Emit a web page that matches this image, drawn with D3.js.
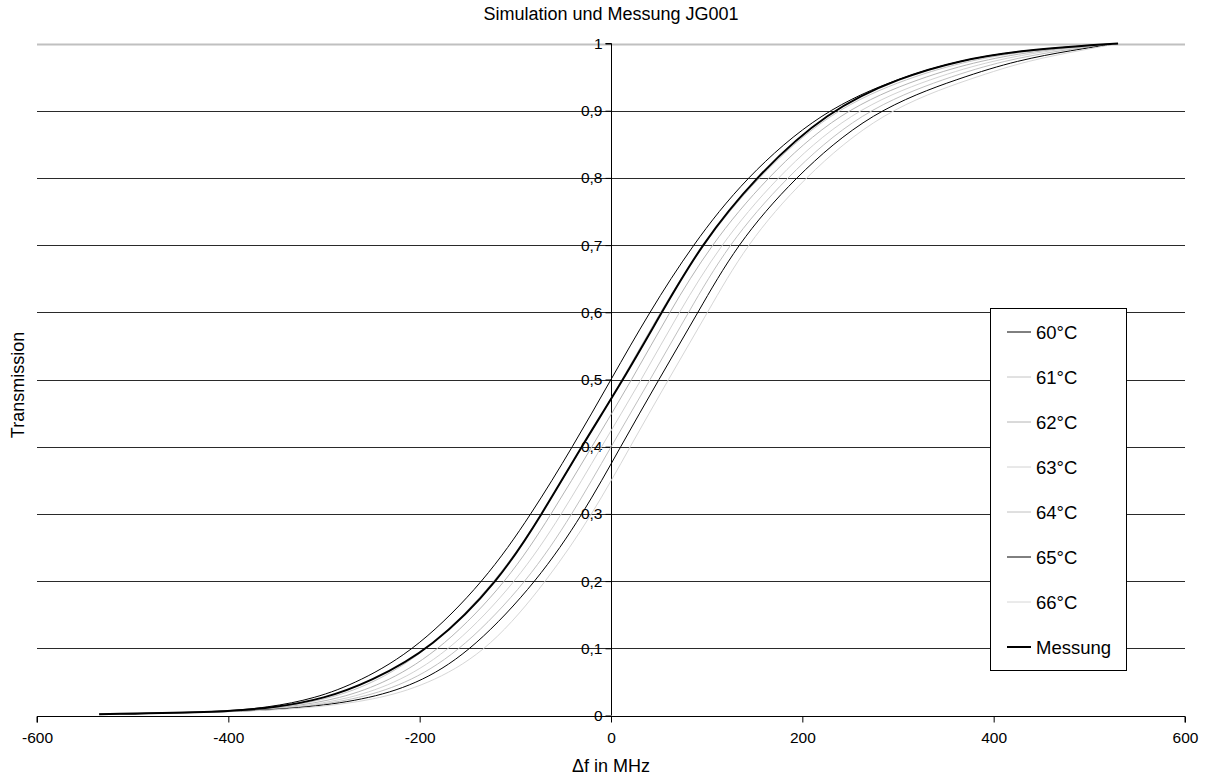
<html>
<title>
    Simulation und Messung JG001
</title>

<head>
    <style>
        body {
            margin: 0;
            background: #fff;
            font-family: "Liberation Sans", Arial, sans-serif;
        }
    </style>
    <script src="https://cdn.jsdelivr.net/npm/d3@7"></script>
</head>

<body>
    <script>

        var width = 1206
        var height = 775

        var levels = [0.002, 0.005, 0.012, 0.025, 0.05, 0.1, 0.2, 0.3, 0.4, 0.5, 0.6, 0.7, 0.8, 0.9, 0.95, 0.975, 0.99, 1]

        var f60 = [-535, -410, -358, -310, -263, -202, -132, -83, -40, 0, 40, 85, 140, 220, 303, 365, 428, 530]
        var f61 = [-535, -404, -345, -293, -245, -188, -119, -72, -30, 12, 51, 95, 152, 229, 312, 375, 438, 530]
        var f62 = [-535, -402, -337, -283, -233, -176, -108, -62, -20, 22, 61, 104, 162, 239, 325, 387, 448, 530]
        var f63 = [-535, -400, -329, -273, -221, -165, -98, -51, -10, 32, 71, 114, 172, 250, 338, 400, 458, 530]
        var f64 = [-535, -398, -322, -263, -209, -154, -87, -40, 0, 41, 81, 122, 182, 261, 352, 412, 470, 530]
        var f65 = [-535, -395, -315, -252, -197, -143, -77, -29, 10, 50, 91, 131, 191, 272, 367, 425, 482, 530]
        var f66 = [-535, -390, -305, -240, -185, -126, -67, -19, 20, 60, 101, 141, 201, 283, 380, 437, 492, 530]
        var fMess = [-535, -405, -350, -300, -252, -187, -117, -72, -31, 13, 53, 94, 150, 226, 303, 365, 428, 530]

        var seriesNames = ["60°C", "61°C", "62°C", "63°C", "64°C", "65°C", "66°C", "Messung"]
        var seriesFreqs = [f60, f61, f62, f63, f64, f65, f66, fMess]
        var seriesColors = ["#000000", "#c4c4c4", "#b4b4b4", "#d2d2d2", "#c0c0c0", "#000000", "#d6d6d6", "#000000"]
        var seriesWidths = [1, 1, 1, 1, 1, 1, 1, 2]

        var xTicks = [-600, -400, -200, 0, 200, 400, 600]
        var yTicks = [0, 0.1, 0.2, 0.3, 0.4, 0.5, 0.6, 0.7, 0.8, 0.9, 1]

        var x = d3.scaleLinear().domain([-600, 600]).range([37, 1185])
        var y = d3.scaleLinear().domain([0, 1]).range([715.5, 43.5])

        var svg = d3.select("body")
            .append("svg")
            .attr("width", width)
            .attr("height", height)

        // title
        svg.append("text")
            .attr("x", 611)
            .attr("y", 20)
            .attr("text-anchor", "middle")
            .attr("font-size", "18px")
            .text("Simulation und Messung JG001")

        // gridlines
        svg.selectAll(".grid")
            .data(yTicks.filter(function (d) { return d > 0 }))
            .enter()
            .append("line")
            .attr("x1", x(-600))
            .attr("x2", x(600))
            .attr("y1", function (d) { return Math.round(y(d)) + 0.5 })
            .attr("y2", function (d) { return Math.round(y(d)) + 0.5 })
            .attr("stroke", function (d) { return d == 1 ? "#c0c0c0" : "#2a2a2a" })
            .attr("stroke-width", function (d) { return d == 1 ? 2 : 1 })

        // y axis at f = 0
        var yAxis = svg.append("g")
            .attr("transform", "translate(" + (Math.round(x(0)) + 0.5) + ",0)")
            .call(d3.axisLeft(y).tickValues(yTicks).tickSize(6).tickPadding(3)
                .tickFormat(function (d) { return String(d).replace(".", ",") }))
        yAxis.selectAll("text").attr("font-size", "15.5px").attr("font-family", "Liberation Sans, Arial, sans-serif").attr("fill", "#000")
        yAxis.selectAll("line").attr("stroke", "#000")
        yAxis.select(".domain").attr("stroke", "#000").attr("d", "M-6," + y(1) + "H0V" + y(0))

        // x axis
        var xAxis = svg.append("g")
            .attr("transform", "translate(0," + (Math.round(y(0)) + 0.5) + ")")
            .call(d3.axisBottom(x).tickValues(xTicks).tickSize(6).tickPadding(9).tickFormat(function (d) { return String(d) }))
        xAxis.selectAll("text").attr("font-size", "15.5px").attr("font-family", "Liberation Sans, Arial, sans-serif").attr("fill", "#000")
        xAxis.selectAll("line").attr("stroke", "#000")
        xAxis.select(".domain").attr("stroke", "#000").attr("d", "M" + x(-600) + ",6V0H" + x(600) + "V6")

        // curves
        var line = d3.line()
            .x(function (d) { return x(d[0]) })
            .y(function (d) { return y(d[1]) })
            .curve(d3.curveBasis)

        seriesNames.forEach(function (name, i) {
            var pts = seriesFreqs[i].map(function (fv, j) { return [fv, levels[j]] })
            svg.append("path")
                .datum(pts)
                .attr("fill", "none")
                .attr("stroke", seriesColors[i])
                .attr("stroke-width", seriesWidths[i])
                .attr("d", line)
        })

        // axis titles
        svg.append("text")
            .attr("x", 611)
            .attr("y", 772)
            .attr("text-anchor", "middle")
            .attr("font-size", "18px")
            .text("Δf in MHz")

        svg.append("text")
            .attr("transform", "translate(24,385) rotate(-90)")
            .attr("text-anchor", "middle")
            .attr("font-size", "18px")
            .text("Transmission")

        // legend
        var legend = svg.append("g")
            .attr("class", "legend")

        legend.append("rect")
            .attr("x", 990.5)
            .attr("y", 308.5)
            .attr("width", 136)
            .attr("height", 362)
            .attr("fill", "#fff")
            .attr("stroke", "#000")

        seriesNames.forEach(function (name, i) {
            var ly = 332 + i * 45
            legend.append("line")
                .attr("x1", 1007)
                .attr("x2", 1031)
                .attr("y1", ly)
                .attr("y2", ly)
                .attr("stroke", seriesColors[i])
                .attr("stroke-width", seriesWidths[i])
            legend.append("text")
                .attr("x", 1036)
                .attr("y", ly + 7)
                .attr("font-size", "18.5px")
                .text(name)
        })

    </script>
</body>

</html>
